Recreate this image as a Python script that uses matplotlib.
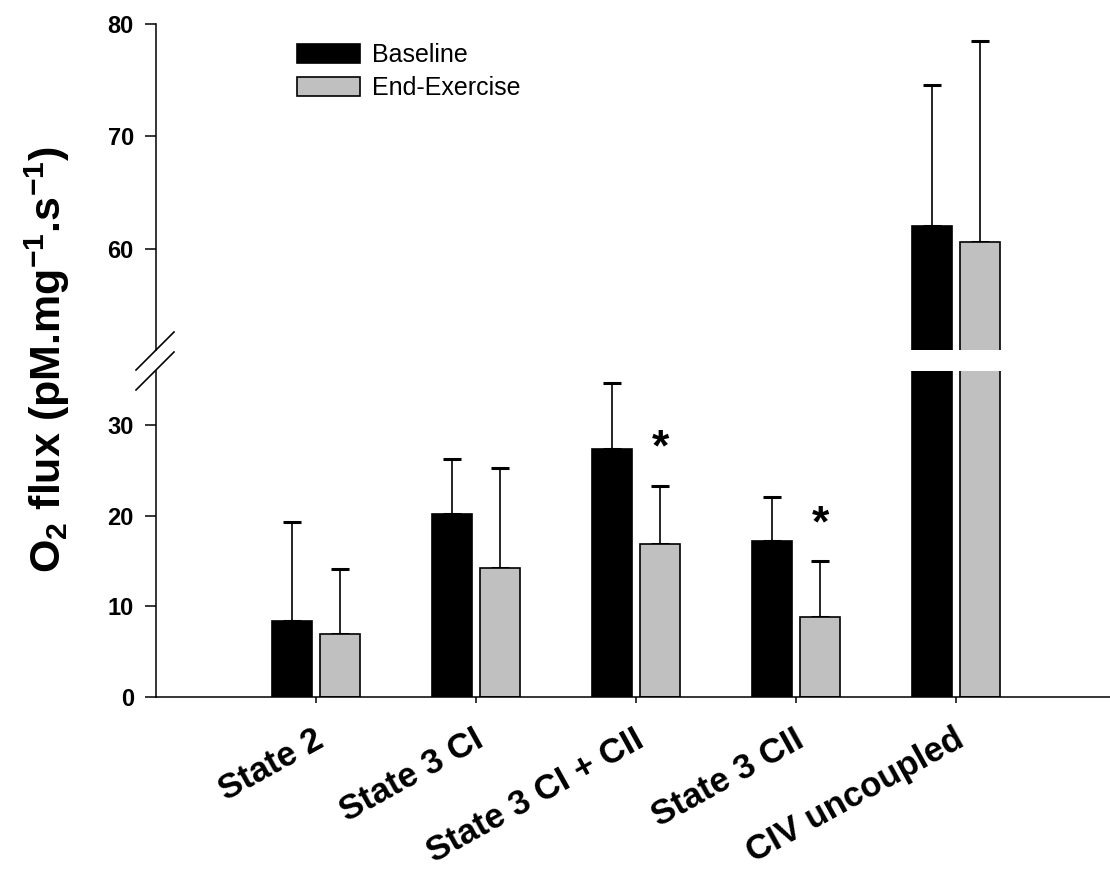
import matplotlib
matplotlib.use('Agg')
import matplotlib.pyplot as plt
import numpy as np
from matplotlib.lines import Line2D
from matplotlib.transforms import ScaledTranslation

# ---------------- data ----------------
categories = ['State 2', 'State 3 CI', 'State 3 CI + CII', 'State 3 CII', 'CIV uncoupled']
series_names = ['Baseline', 'End-Exercise']
baseline = [8.4, 20.2, 27.3, 17.2, 62.0]
baseline_err = [10.9, 6.0, 7.3, 4.9, 12.6]
end_exercise = [7.0, 14.2, 16.9, 8.8, 60.6]
end_exercise_err = [7.1, 11.1, 6.4, 6.2, 17.9]
significant = [False, False, True, True, False]
lower_ticks = [0, 10, 20, 30]
upper_ticks = [60, 70, 80]
lower_range = (0, 36)
upper_range = (51, 80)

# ---------------- style ----------------
plt.rcParams['font.family'] = ['Liberation Sans', 'DejaVu Sans']
plt.rcParams['mathtext.fontset'] = 'custom'
plt.rcParams['mathtext.bf'] = 'Liberation Sans:bold'
plt.rcParams['mathtext.rm'] = 'Liberation Sans:bold'

W, H = 1110, 869
fig = plt.figure(figsize=(W / 100, H / 100), dpi=100)


def fx(px):
    return px / W


def fy(py):
    return 1 - py / H


ax_bot = fig.add_axes([fx(156), fy(697), fx(960), (697 - 370.5) / H])
ax_top = fig.add_axes([fx(156), fy(350), fx(960), (350 - 24) / H])

x = np.arange(len(categories))
off = 0.15
w = 0.245
n = len(categories)
gray = '#c0c0c0'

handles = []
for ax in (ax_top, ax_bot):
    b1 = ax.bar(x - off, baseline, w, color='black', edgecolor='black', linewidth=1.2, zorder=2)
    b2 = ax.bar(x + off, end_exercise, w, color=gray, edgecolor='black', linewidth=1.2, zorder=2)
    ax.errorbar(x - off, baseline, yerr=[np.zeros(n), baseline_err], fmt='none',
                ecolor='black', elinewidth=1.2, capsize=6.5, capthick=2.2, zorder=1)
    ax.errorbar(x + off, end_exercise, yerr=[np.zeros(n), end_exercise_err], fmt='none',
                ecolor='black', elinewidth=1.2, capsize=6.5, capthick=2.2, zorder=1)
    ax.set_xlim(-1, 5)
    ax.spines['right'].set_visible(False)
    ax.spines['top'].set_visible(False)
    for s in ('left', 'bottom'):
        ax.spines[s].set_linewidth(1.1)
    ax.tick_params(axis='y', direction='out', length=8, width=1.1, pad=8, labelsize=17)
    if ax is ax_top:
        handles = [b1, b2]

ax_top.set_ylim(*upper_range)
ax_top.set_yticks(upper_ticks)
ax_top.spines['bottom'].set_visible(False)
ax_top.tick_params(axis='x', bottom=False, labelbottom=False)

ax_bot.set_ylim(*lower_range)
ax_bot.set_yticks(lower_ticks)
ax_bot.set_xticks(x)
ax_bot.set_xticklabels(categories, rotation=29, ha='right', va='top',
                       rotation_mode='anchor', fontsize=25, fontweight='bold')
ax_bot.tick_params(axis='x', direction='out', length=4.5, width=1.1, pad=14)
for lab in ax_bot.get_xticklabels():
    lab.set_transform(lab.get_transform() + ScaledTranslation(-3 / 100, 0, fig.dpi_scale_trans))

for ax in (ax_top, ax_bot):
    for lab in ax.get_yticklabels():
        lab.set_fontweight('bold')

# significance markers
for i in range(n):
    if significant[i]:
        ax_bot.text(x[i] + off, end_exercise[i] + end_exercise_err[i] + 4.0, '*',
                    ha='center', va='center', fontsize=32, fontweight='bold')

# axis break marks
for (x0, y0, x1, y1) in [(136, 370, 174, 332), (136, 390, 174, 352)]:
    fig.add_artist(Line2D([fx(x0), fx(x1)], [fy(y0), fy(y1)], transform=fig.transFigure,
                          color='black', linewidth=1.2))

# y label
fig.text(fx(47), fy(360), r'O$_\mathbf{2}$ flux (pM.mg$^\mathbf{-1}$.s$^\mathbf{-1}$)',
         rotation=90, ha='center', va='center', fontsize=31, fontweight='bold')

# legend
fig.legend(handles, series_names, loc='upper left', bbox_to_anchor=(fx(297), fy(43)),
           bbox_transform=fig.transFigure, frameon=False, fontsize=18,
           handlelength=2.5, handleheight=0.8, handletextpad=0.5, labelspacing=0.35,
           borderpad=0, borderaxespad=0)

fig.savefig('out.png', dpi=100)
